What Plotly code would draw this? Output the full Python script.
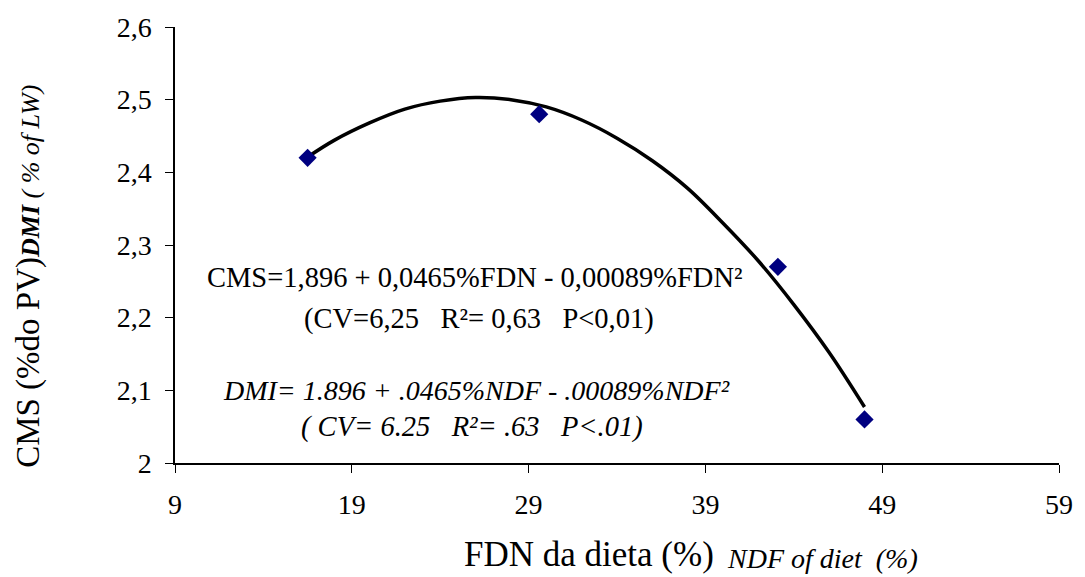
import plotly.graph_objects as go

# Observed data (FDN %, CMS % PV)
fdn_obs = [16.5, 29.6, 43.1, 48.0]
cms_obs = [2.42, 2.48, 2.27, 2.06]

# Fitted curve
curve_fdn = [16.5, 18, 20, 22, 24, 26, 28, 30, 32, 34, 36, 38, 40, 42, 44, 46, 48]
curve_cms = [2.421, 2.444, 2.468, 2.487, 2.498, 2.503, 2.500, 2.490, 2.472,
             2.447, 2.416, 2.378, 2.330, 2.278, 2.218, 2.152, 2.077]

x_ticks = [9, 19, 29, 39, 49, 59]
y_ticks = [2.0, 2.1, 2.2, 2.3, 2.4, 2.5, 2.6]

eq_lines = [
    "CMS=1,896 + 0,0465%FDN - 0,00089%FDN²",
    "(CV=6,25   R²= 0,63   P<0,01)",
    "<i>DMI= 1.896 + .0465%NDF - .00089%NDF²</i>",
    "<i>( CV= 6.25   R²= .63   P<.01)</i>",
]

FONT = "'Liberation Serif', 'Times New Roman', serif"

W, H = 1085, 577
L, R, T, B = 175, 19, 23, 114
pw, ph = W - L - R, H - T - B


def px(xp):
    return (xp - L) / pw


def py(yp):
    return (H - B - yp) / ph


fig = go.Figure()
fig.add_trace(go.Scatter(
    x=curve_fdn, y=curve_cms, mode="lines",
    line=dict(color="black", width=3.5, shape="spline"),
    hoverinfo="skip", showlegend=False,
))
fig.add_trace(go.Scatter(
    x=fdn_obs, y=cms_obs, mode="markers",
    marker=dict(symbol="diamond", size=14, color="#000080"),
    showlegend=False,
))

annotations = []
eq_pos = [(477, 276, 28.5), (481, 318, 28.5), (479, 390, 28), (474, 427, 28.5)]
for text, (xp_, yp_, fs) in zip(eq_lines, eq_pos):
    annotations.append(dict(
        text=text, x=px(xp_), y=py(yp_), xref="paper", yref="paper",
        xanchor="center", yanchor="middle", showarrow=False,
        font=dict(family=FONT, size=fs, color="black"),
    ))

# x-axis title (two parts)
annotations.append(dict(
    text="FDN da dieta (%)", x=px(592), y=py(555), xref="paper", yref="paper",
    xanchor="center", yanchor="middle", showarrow=False,
    font=dict(family=FONT, size=35, color="black"),
))
annotations.append(dict(
    text="<i>NDF of diet  (%)</i>", x=px(828), y=py(559), xref="paper", yref="paper",
    xanchor="center", yanchor="middle", showarrow=False,
    font=dict(family=FONT, size=28, color="black"),
))
# y-axis title
annotations.append(dict(
    text="CMS (%do PV)<span style='font-size:26px'><i><b>DMI</b> ( % of LW)</i></span>",
    x=px(28), y=py(275), xref="paper", yref="paper",
    xanchor="center", yanchor="middle", showarrow=False, textangle=-90,
    font=dict(family=FONT, size=33, color="black"),
))

fig.update_layout(
    width=W, height=H,
    margin=dict(l=L, r=R, t=T, b=B),
    paper_bgcolor="white", plot_bgcolor="white",
    separators=",.",
    font=dict(family=FONT, color="black"),
    annotations=annotations,
    xaxis=dict(
        range=[9, 59], tickvals=x_ticks, showgrid=False, zeroline=False,
        showline=True, linecolor="black", linewidth=1.5,
        ticks="outside", ticklen=8, tickwidth=1, tickcolor="black",
        tickfont=dict(family=FONT, size=28, color="black"),
        ticklabelstandoff=8,
    ),
    yaxis=dict(
        range=[2.0, 2.6], tickvals=y_ticks, showgrid=False, zeroline=False,
        showline=True, linecolor="black", linewidth=1.5,
        ticks="outside", ticklen=8, tickwidth=1, tickcolor="black",
        tickfont=dict(family=FONT, size=28, color="black"),
        ticklabelstandoff=8,
    ),
)

fig.write_html("out.html")
